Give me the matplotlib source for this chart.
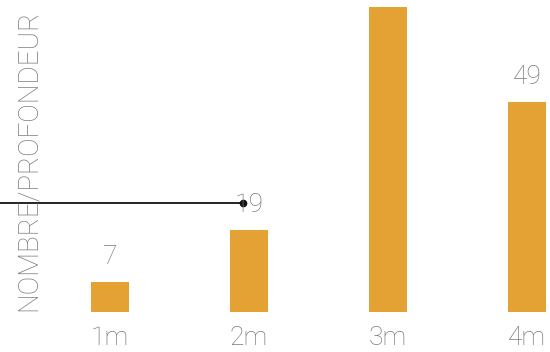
import matplotlib
matplotlib.use("Agg")
import matplotlib.pyplot as plt

categories = ["1m", "2m", "3m", "4m"]
values = [7, 19, 71, 49]
ylabel = "NOMBRE/PROFONDEUR"
ref_value = 25.4      # level of the annotation line
ref_end = 0.957       # x where the annotation line ends (with a dot)

bar_color = "#E5A234"
text_color = "#7a7a7a"
font = ["Roboto", "DejaVu Sans"]
YMAX = 72.7

fig = plt.figure(figsize=(5.5, 3.52), dpi=100)
ax = fig.add_axes([0, 40 / 352, 1, 312 / 352])
x = list(range(len(categories)))
ax.bar(x, values, width=0.273, color=bar_color)
ax.set_xlim(-0.791, 3.165)
ax.set_ylim(0, YMAX)
for s in ax.spines.values():
    s.set_visible(False)
ax.set_yticks([])
ax.set_xticks(x)
ax.set_xticklabels(categories, fontsize=19, color=text_color, family=font, fontweight="light")
ax.tick_params(axis="x", length=0, pad=10)

for xi, v in zip(x, values):
    if v + 9 < YMAX:  # labels above the visible area are not shown
        ax.annotate(str(v), (xi, v), xytext=(0, 18), textcoords="offset pixels",
                    ha="center", va="baseline", fontsize=19, color=text_color,
                    family=font, fontweight="light")

ax.plot([-0.8, ref_end], [ref_value, ref_value], color="#111111", lw=1.3, clip_on=False)
ax.plot([ref_end], [ref_value], "o", color="#111111", ms=4.5)

fig.text(28 / 550, 1 - 160 / 352, ylabel, rotation=90, ha="center", va="center",
         fontsize=20, color=text_color, family=font, fontweight="light")

fig.savefig("out.png", dpi=100)
